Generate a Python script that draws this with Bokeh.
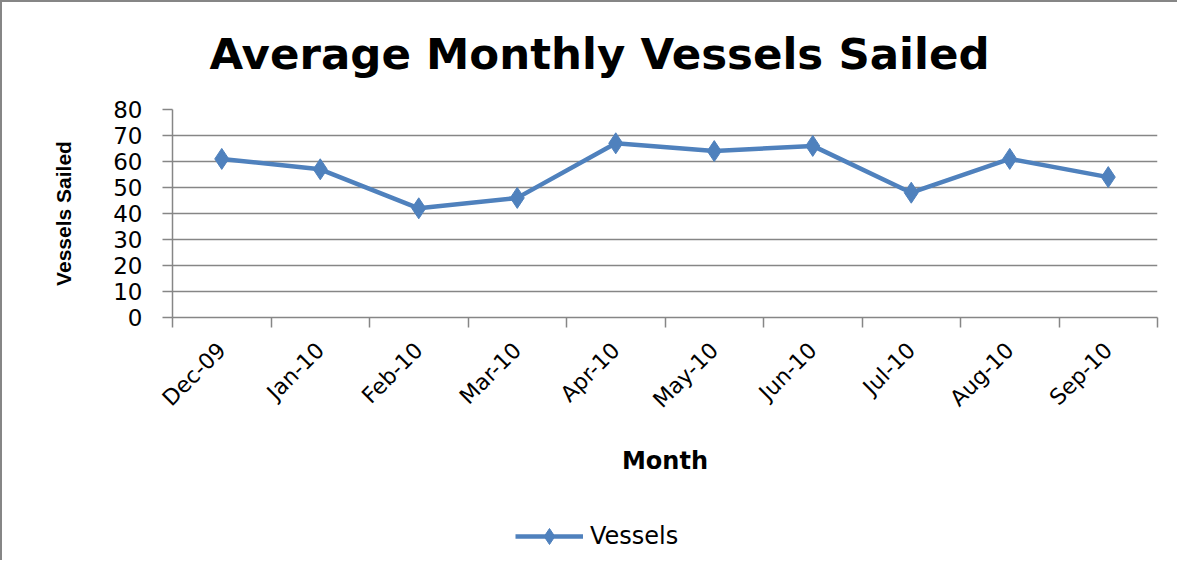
from bokeh.plotting import figure
from bokeh.models import (Range1d, FixedTicker, Legend, LegendItem, Label)
from bokeh.layouts import column
from bokeh.embed import file_html
from bokeh.resources import INLINE

months = ["Dec-09", "Jan-10", "Feb-10", "Mar-10", "Apr-10",
          "May-10", "Jun-10", "Jul-10", "Aug-10", "Sep-10"]
vessels = [61, 57, 42, 46, 67, 64, 66, 48, 61, 54]
y_ticks = [0, 10, 20, 30, 40, 50, 60, 70, 80]
series_name = "Vessels"
chart_title = "Average Monthly Vessels Sailed"

xs = [i + 0.5 for i in range(len(months))]
blue = "#4F81BD"
grid_col = "#868686"


def strip(height, styles):
    f = figure(width=1177, height=height, output_backend="svg", toolbar_location=None,
               x_range=Range1d(100, 101), y_range=Range1d(0, 80),
               x_axis_location=None, y_axis_location=None,
               min_border_left=0, min_border_right=0, min_border_top=0,
               min_border_bottom=0)
    f.styles = styles
    f.outline_line_color = None
    f.xgrid.visible = False
    f.ygrid.visible = False
    f.background_fill_color = "white"
    f.border_fill_color = "white"
    return f


# Title strip
tt = strip(89, {"border-left": "2px solid #868686", "border-top": "2px solid #868686"})
tt.add_layout(Label(x=37, y=38, x_units="screen", y_units="screen", text=chart_title,
                    text_font="DejaVu Sans", text_font_style="bold",
                    text_font_size="43.5px", text_color="black",
                    text_align="left", text_baseline="alphabetic"))

# Main chart
p = figure(width=1177, height=411, output_backend="svg", toolbar_location=None,
           x_range=Range1d(0, len(months)), y_range=Range1d(0, 80),
           min_border_left=170, min_border_right=22, min_border_top=20,
           min_border_bottom=183)
p.styles = {"border-left": "2px solid #868686"}
p.outline_line_color = None
p.background_fill_color = "white"
p.border_fill_color = "white"

p.xgrid.visible = False
p.ygrid.ticker = FixedTicker(ticks=y_ticks)
p.ygrid.grid_line_color = grid_col
p.ygrid.grid_line_width = 1.5

ya = p.yaxis[0]
ya.ticker = FixedTicker(ticks=y_ticks)
ya.axis_line_color = grid_col
ya.axis_line_width = 1.5
ya.major_tick_line_color = grid_col
ya.major_tick_line_width = 1.5
ya.major_tick_out = 10
ya.major_tick_in = 0
ya.minor_tick_line_color = None
ya.major_label_text_font = "DejaVu Sans"
ya.major_label_text_font_size = "23px"
ya.major_label_text_color = "black"
ya.major_label_standoff = 20
ya.axis_label = "Vessels Sailed"
ya.axis_label_text_font = "Liberation Sans"
ya.axis_label_text_font_style = "bold"
ya.axis_label_text_font_size = "21px"
ya.axis_label_text_color = "black"
ya.axis_label_standoff = 35

xa = p.xaxis[0]
xa.ticker = FixedTicker(ticks=xs, minor_ticks=list(range(len(months) + 1)))
xa.major_label_overrides = {x: m for x, m in zip(xs, months)}
xa.major_label_orientation = 0.785398
xa.axis_line_color = grid_col
xa.axis_line_width = 1.5
xa.major_tick_line_color = None
xa.minor_tick_line_color = grid_col
xa.minor_tick_line_width = 1.5
xa.minor_tick_out = 10
xa.minor_tick_in = 0
xa.major_label_text_font = "DejaVu Sans"
xa.major_label_text_font_size = "22px"
xa.major_label_text_color = "black"
xa.major_label_standoff = 19
xa.axis_label = "Month"
xa.axis_label_text_font = "DejaVu Sans"
xa.axis_label_text_font_style = "bold"
xa.axis_label_text_font_size = "24px"
xa.axis_label_text_color = "black"
xa.axis_label_standoff = 23

p.line(xs, vessels, line_color=blue, line_width=4.5)
p.scatter(xs, vessels, marker="diamond", size=21, fill_color=blue, line_color=blue)

# Legend strip
lg = strip(60, {"border-left": "2px solid #868686"})
lr = lg.line(xs, vessels, line_color=blue, line_width=4.5)
lm = lg.scatter(xs, vessels, marker="diamond", size=21, fill_color=blue,
                line_color=blue)
legend = Legend(items=[LegendItem(label=series_name, renderers=[lr, lm])],
                location=(343, 4), orientation="horizontal",
                glyph_width=68, glyph_height=40, label_standoff=7,
                padding=0, margin=0, border_line_color=None,
                background_fill_alpha=0, label_text_font="DejaVu Sans",
                label_text_font_size="24px", label_text_color="black")
lg.add_layout(legend, "center")

layout = column(tt, p, lg, spacing=0)
open("out.html", "w").write(file_html(layout, INLINE))
